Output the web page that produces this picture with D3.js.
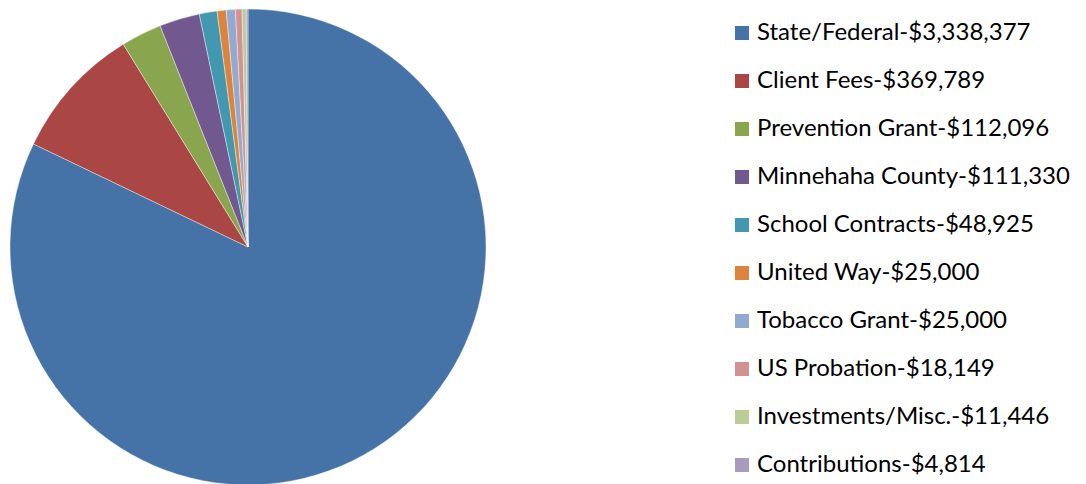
<!DOCTYPE html>
<html>
<head>
<meta charset="utf-8">
<script src="https://cdn.jsdelivr.net/npm/d3@7"></script>
<style>
  html, body { margin: 0; padding: 0; background: #fff; }
  svg { display: block; }
</style>
</head>
<body>
<svg id="chart" width="1086" height="484"></svg>
<script>
// Revenue sources
const categories = [
  "State/Federal", "Client Fees", "Prevention Grant", "Minnehaha County",
  "School Contracts", "United Way", "Tobacco Grant", "US Probation",
  "Investments/Misc.", "Contributions"
];
const amounts = [3338377, 369789, 112096, 111330, 48925, 25000, 25000, 18149, 11446, 4814];
const legendLabels = [
  "State/Federal-$3,338,377", "Client Fees-$369,789", "Prevention Grant-$112,096",
  "Minnehaha County-$111,330", "School Contracts-$48,925", "United Way-$25,000",
  "Tobacco Grant-$25,000", "US Probation-$18,149", "Investments/Misc.-$11,446",
  "Contributions-$4,814"
];
const colors = ["#4572A7", "#AA4643", "#89A54E", "#71588F", "#4198AF",
                "#DB843D", "#93A9CF", "#D19392", "#B9CD96", "#A99BBD"];

const svg = d3.select("#chart");
const cx = 248, cy = 247, radius = 238;

const data = categories.map((c, i) => ({ name: c, value: amounts[i], label: legendLabels[i] }));

const color = d3.scaleOrdinal().domain(categories).range(colors);

const pie = d3.pie().value(d => d.value).sort(null);
const arc = d3.arc().innerRadius(0).outerRadius(radius);

svg.append("g")
  .attr("transform", `translate(${cx},${cy})`)
  .selectAll("path")
  .data(pie(data))
  .join("path")
  .attr("d", arc)
  .attr("fill", d => color(d.data.name))
  .attr("stroke", "#ffffff")
  .attr("stroke-width", 0.4);

// Legend
const legendY = d3.scalePoint().domain(categories).range([33, 465]);
const legend = svg.append("g").attr("transform", "translate(735,0)");
const rows = legend.selectAll("g").data(data).join("g")
  .attr("transform", d => `translate(0,${legendY(d.name)})`);
rows.append("rect")
  .attr("x", 0).attr("y", -7).attr("width", 14).attr("height", 14)
  .attr("fill", d => color(d.name));
rows.append("text")
  .attr("x", 22).attr("y", 7)
  .attr("font-family", "Lato, 'Open Sans', sans-serif")
  .attr("font-size", 24)
  .attr("fill", "#000")
  .text(d => d.label);
</script>
</body>
</html>
